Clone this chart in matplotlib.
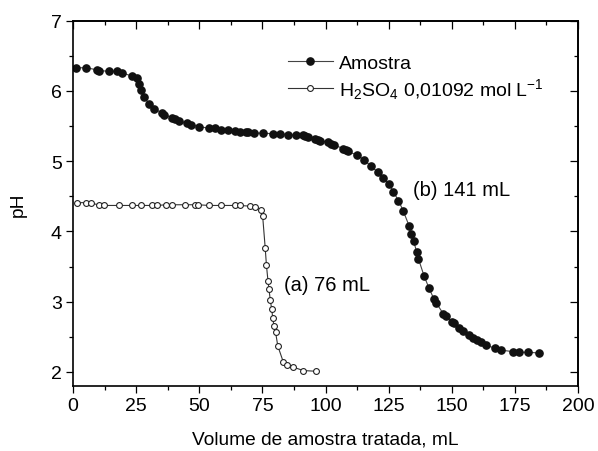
import matplotlib
matplotlib.use("Agg")
import matplotlib.pyplot as plt
from matplotlib.ticker import MultipleLocator

plt.rcParams["font.family"] = ["Liberation Sans", "DejaVu Sans"]
plt.rcParams["mathtext.default"] = "regular"

# titration curve of the sample (filled circles)
amostra_vol = [1.2, 5.3, 9.5, 10.2, 14.3, 17.3, 19.3, 23.4, 25.2, 26.1, 27.1, 28.2,
               30.1, 32.2, 35.4, 36.2, 39.2, 40.4, 41.9, 45.2, 46.7, 50.0, 54.0, 56.2,
               58.8, 61.5, 64.1, 66.3, 68.6, 69.3, 71.6, 75.4, 79.1, 82.1, 85.2, 88.2,
               91.2, 91.9, 93.1, 95.9, 96.9, 98.0, 101.0, 102.2, 103.4, 107.0, 108.1,
               108.8, 112.3, 115.3, 117.9, 120.9, 122.8, 125.1, 126.9, 128.9, 130.8,
               133.1, 133.8, 134.9, 136.1, 136.8, 139.0, 140.9, 142.9, 143.9, 146.6,
               147.7, 150.0, 150.7, 153.0, 154.5, 156.7, 158.3, 159.8, 161.6, 163.5,
               167.0, 169.6, 174.1, 176.8, 180.1, 184.6]
amostra_ph = [6.33, 6.33, 6.30, 6.29, 6.28, 6.28, 6.26, 6.21, 6.18, 6.10, 6.02, 5.92,
              5.81, 5.75, 5.68, 5.66, 5.62, 5.60, 5.57, 5.54, 5.52, 5.49, 5.47, 5.47,
              5.45, 5.44, 5.43, 5.42, 5.41, 5.41, 5.40, 5.40, 5.39, 5.39, 5.38, 5.37,
              5.37, 5.36, 5.35, 5.31, 5.30, 5.29, 5.27, 5.25, 5.23, 5.18, 5.16, 5.14,
              5.09, 5.02, 4.93, 4.84, 4.76, 4.68, 4.56, 4.44, 4.29, 4.08, 3.96, 3.86,
              3.71, 3.61, 3.37, 3.20, 3.04, 2.98, 2.83, 2.80, 2.71, 2.69, 2.62, 2.58,
              2.52, 2.48, 2.46, 2.43, 2.38, 2.34, 2.31, 2.29, 2.28, 2.28, 2.27]

# H2SO4 standard (open circles)
acido_vol = [1.5, 5.3, 7.2, 10.2, 12.1, 18.1, 23.4, 27.1, 31.3, 33.2, 36.9, 39.2, 44.2,
             48.2, 49.3, 54.0, 58.8, 64.1, 66.0, 70.1, 72.0, 74.3, 75.1, 76.1, 76.6,
             77.2, 77.6, 78.1, 78.7, 79.1, 79.6, 80.2, 81.1, 83.3, 84.9, 87.1, 91.2, 96.2]
acido_ph = [4.41, 4.41, 4.40, 4.38, 4.37, 4.37, 4.37, 4.37, 4.37, 4.37, 4.38, 4.38, 4.38,
            4.38, 4.38, 4.37, 4.37, 4.37, 4.37, 4.36, 4.35, 4.31, 4.22, 3.77, 3.52,
            3.30, 3.18, 3.03, 2.89, 2.77, 2.65, 2.57, 2.37, 2.14, 2.10, 2.07, 2.02, 2.01]

fig = plt.figure(figsize=(5.98, 4.52), dpi=100)
ax = fig.add_axes([0.1221, 0.1438, 0.8445, 0.8082])

ax.plot(amostra_vol, amostra_ph, "-", color="#444444", lw=0.8, marker="o", ms=5.2,
        mfc="#111111", mec="#111111", label="Amostra")
ax.plot(acido_vol, acido_ph, "-", color="#333333", lw=0.8, marker="o", ms=4.2,
        mfc="white", mec="#222222", mew=0.8,
        label="H$_2$SO$_4$ 0,01092 mol L$^{-1}$")

ax.text(134.7, 4.60, "(b) 141 mL", fontsize=14.5, va="center", ha="left")
ax.text(83.6, 3.25, "(a) 76 mL", fontsize=14.5, va="center", ha="left")

ax.set_xlim(0, 200)
ax.set_ylim(1.8, 7)
ax.xaxis.set_major_locator(MultipleLocator(25))
ax.xaxis.set_minor_locator(MultipleLocator(12.5))
ax.yaxis.set_major_locator(MultipleLocator(1))
ax.yaxis.set_minor_locator(MultipleLocator(0.5))

# outward ticks on bottom/left, inward mirrored ticks on top/right
ax.tick_params(which="both", direction="out", labelsize=14, pad=3, width=0.9)
ax.tick_params(which="major", length=5)
ax.tick_params(which="minor", length=3)

top = ax.secondary_xaxis("top")
top.xaxis.set_major_locator(MultipleLocator(25))
top.xaxis.set_minor_locator(MultipleLocator(12.5))
top.tick_params(which="both", direction="in", labeltop=False, width=0.9)
top.tick_params(which="major", length=6)
top.tick_params(which="minor", length=3)

right = ax.secondary_yaxis("right")
right.yaxis.set_major_locator(MultipleLocator(1))
right.yaxis.set_minor_locator(MultipleLocator(0.5))
right.tick_params(which="both", direction="in", labelright=False, width=0.9)
right.tick_params(which="major", length=6)
right.tick_params(which="minor", length=3)

for sp in list(ax.spines.values()) + [top.spines["top"], right.spines["right"]]:
    sp.set_linewidth(1.2)

ax.set_xlabel("Volume de amostra tratada, mL", fontsize=13.8, labelpad=12)
ax.set_ylabel("pH", fontsize=13.8, labelpad=17)

ax.legend(loc="upper left", bbox_to_anchor=(0.4257, 0.908), frameon=False, fontsize=14,
          handlelength=2.3, handletextpad=0.3, labelspacing=0.2, borderpad=0,
          borderaxespad=0)

fig.savefig("out.png", dpi=100)
